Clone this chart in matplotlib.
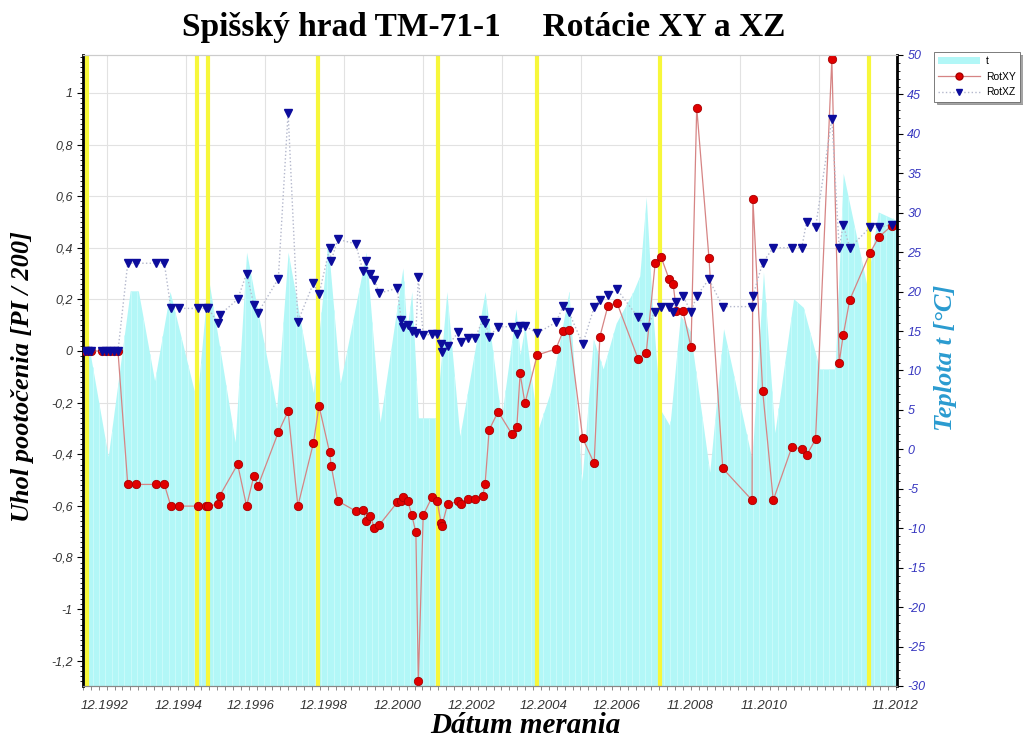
"""Spišský hrad TM-71-1: rotations XY and XZ against air temperature."""

import matplotlib

matplotlib.use("Agg")

import matplotlib.pyplot as plt  # noqa: E402
import numpy as np  # noqa: E402
from matplotlib.lines import Line2D  # noqa: E402
from matplotlib.patches import Patch  # noqa: E402
from matplotlib.ticker import FuncFormatter, MultipleLocator  # noqa: E402
from matplotlib.transforms import blended_transform_factory  # noqa: E402

# ---------------------------------------------------------------------------
# Data (x = position along the date axis, 0 = left edge, 100 = right edge)
# ---------------------------------------------------------------------------
MEAS_POS = [
    0.2, 0.6, 1.0, 2.3, 2.8, 3.3, 3.8, 4.3, 5.5, 6.5,
    9.0, 10.0, 10.8, 11.8, 14.1, 15.1, 15.4, 16.6, 16.8, 19.0,
    20.1, 21.0, 21.5, 24.0, 25.2, 26.4, 28.3, 29.0, 30.3, 30.5,
    31.3, 33.5, 34.4, 34.8, 35.3, 35.8, 36.4, 38.6, 39.1, 39.3,
    39.9, 40.4, 40.9, 41.2, 41.8, 42.9, 43.5, 44.0, 44.1, 44.8,
    46.1, 46.4, 47.3, 48.2, 49.1, 49.4, 49.9, 51.0, 52.7, 53.3,
    53.7, 54.3, 55.8, 58.1, 59.0, 59.7, 61.4, 62.8, 63.5, 64.5,
    65.6, 68.2, 69.2, 70.3, 71.0, 72.0, 72.5, 72.9, 73.7, 74.7,
    75.4, 76.9, 78.6, 82.2, 82.3, 83.5, 84.8, 87.1, 88.3, 88.9,
    90.0, 92.0, 92.9, 93.4, 94.2, 96.7, 97.8, 99.4,
]
ROT_XY = [
    0, 0, 0, 0, 0, 0, 0, 0, -0.517, -0.517,
    -0.517, -0.517, -0.601, -0.601, -0.601, -0.601, -0.601, -0.593, -0.561, -0.439,
    -0.601, -0.483, -0.523, -0.315, -0.233, -0.601, -0.358, -0.213, -0.393, -0.446,
    -0.581, -0.62, -0.616, -0.659, -0.64, -0.685, -0.674, -0.587, -0.583, -0.565,
    -0.58, -0.636, -0.703, -1.279, -0.636, -0.565, -0.58, -0.668, -0.677, -0.593,
    -0.583, -0.593, -0.574, -0.574, -0.561, -0.517, -0.306, -0.235, -0.322, -0.296,
    -0.087, -0.203, -0.016, 0.008, 0.078, 0.081, -0.339, -0.435, 0.055, 0.176,
    0.187, -0.031, -0.006, 0.342, 0.366, 0.279, 0.26, 0.156, 0.156, 0.014,
    0.943, 0.362, -0.455, -0.578, 0.59, -0.154, -0.578, -0.371, -0.38, -0.404,
    -0.342, 1.131, -0.045, 0.062, 0.198, 0.381, 0.443, 0.486,
]
ROT_XZ = [
    0, 0, 0, 0, 0, 0, 0, 0, 0.34, 0.34,
    0.34, 0.34, 0.165, 0.165, 0.165, 0.165, 0.165, 0.107, 0.14, 0.2,
    0.30, 0.178, 0.148, 0.28, 0.924, 0.114, 0.262, 0.22, 0.398, 0.35,
    0.433, 0.415, 0.31, 0.35, 0.297, 0.275, 0.224, 0.243, 0.12, 0.094,
    0.1, 0.079, 0.069, 0.286, 0.062, 0.064, 0.064, 0.027, -0.003, 0.02,
    0.072, 0.036, 0.052, 0.052, 0.12, 0.11, 0.056, 0.094, 0.094, 0.066,
    0.097, 0.097, 0.069, 0.111, 0.174, 0.15, 0.027, 0.17, 0.198, 0.217,
    0.239, 0.13, 0.092, 0.152, 0.172, 0.172, 0.152, 0.191, 0.213, 0.152,
    0.213, 0.278, 0.172, 0.172, 0.213, 0.342, 0.4, 0.4, 0.4, 0.501,
    0.479, 0.899, 0.4, 0.488, 0.4, 0.479, 0.479, 0.49,
]

TEMP_POS = [
    0.0, 3.1, 5.8, 6.8, 8.8, 10.7, 14.0, 15.4, 18.7, 20.1,
    23.8, 25.2, 28.3, 30.1, 31.6, 34.8, 36.5, 39.3, 39.8, 40.4,
    41.2, 43.4, 44.7, 46.3, 49.4, 51.4, 53.2, 53.7, 54.3, 55.9,
    57.4, 59.7, 61.3, 62.7, 63.9, 65.5, 67.6, 68.4, 69.2, 69.9,
    70.9, 72.1, 73.4, 74.6, 77.0, 78.7, 82.2, 83.6, 85.0, 87.3,
    88.5, 90.5, 92.4, 93.4, 96.3, 97.7, 99.4, 100.0,
]
TEMP_C = [
    17.4, -0.9, 20.1, 20.1, 8.7, 20.0, 6.0, 21.8, 0.9, 25.0,
    5.1, 25.0, 7.2, 26.3, 8.3, 25.0, 3.4, 23.0, 15.0, 20.0,
    4.0, 4.0, 20.0, 1.7, 20.0, 3.8, 17.8, 12.0, 15.7, 2.5,
    7.2, 20.0, -4.0, 14.0, 10.2, 16.0, 20.0, 22.0, 32.0, 19.0,
    5.1, 3.0, 17.0, 15.0, -2.9, 15.3, -1.3, 22.5, 2.1, 19.1,
    18.0, 10.2, 10.2, 35.0, 20.8, 30.1, 29.3, 29.0,
]

EVENT_POS = [0.45, 14.0, 15.3, 28.9, 43.6, 55.8, 70.9, 96.6]

DATE_LABELS = [
    "12.1992", "12.1994", "12.1996", "12.1998", "12.2000", "12.2002",
    "12.2004", "12.2006", "11.2008", "11.2010", "11.2012",
]
DATE_LABEL_POS = [2.7, 11.7, 20.6, 29.6, 38.7, 47.7, 56.6, 65.6, 74.6, 83.7, 99.8]

# ---------------------------------------------------------------------------
# Style
# ---------------------------------------------------------------------------
SERIF = "Liberation Serif"
SANS = "Liberation Sans"
CYAN = "#b2f7f7"
STRIPE = "#c9fbfb"
YELLOW = "#f7f73a"
GRID = "#e2e2e2"
RIGHT_TICK_COLOR = "#3636c0"
RIGHT_LABEL_COLOR = "#2a9bd0"

plt.rcParams["font.family"] = SANS
plt.rcParams["axes.unicode_minus"] = False


def comma_label(value, _pos):
    if abs(value) < 1e-9:
        return "0"
    return f"{value:g}".replace(".", ",")


fig = plt.figure(figsize=(10.23, 7.40), dpi=100)
ax = fig.add_axes([0.0811, 0.073, 0.7957, 0.8527])
ax_t = ax.twinx()

ax.set_xlim(0, 100)
ax.set_ylim(-1.298, 1.147)
ax_t.set_ylim(-30, 50)

# temperature area: right-axis units, drawn in the left axes so it sits over the grid
trans_t = blended_transform_factory(ax.transData, ax_t.transData)
ax.fill_between(TEMP_POS, -30, TEMP_C, color=CYAN, lw=0, transform=trans_t, zorder=1)
stripe_x = np.arange(0.4, 100, 0.78)
ax.vlines(stripe_x, -30, np.interp(stripe_x, TEMP_POS, TEMP_C), color=STRIPE,
          lw=0.7, transform=trans_t, zorder=1.1)

# grid
ax.set_axisbelow(True)
ax.yaxis.grid(True, color=GRID, lw=0.8)
for gx in np.arange(2.9, 99, 9.72):
    ax.axvline(gx, color=GRID, lw=0.8, zorder=0.5)

# event markers
for ex in EVENT_POS:
    ax.axvline(ex, color=YELLOW, lw=3, zorder=2)

ax.plot(MEAS_POS, ROT_XY, color="#d68484", lw=0.9, marker="o", ms=6,
        mfc="#e00000", mec="#a80000", mew=0.6, zorder=4)
ax.plot(MEAS_POS, ROT_XZ, color="#b4b8cc", lw=1.0, ls=":", marker="v", ms=6,
        mfc="#0c0c9c", mec="#0c0c9c", zorder=5)

# axes cosmetics
ax.yaxis.set_major_locator(MultipleLocator(0.2))
ax.yaxis.set_minor_locator(MultipleLocator(0.02))
ax.yaxis.set_major_formatter(FuncFormatter(comma_label))
ax.tick_params(axis="y", which="major", length=4, labelsize=9, labelcolor="#333333")
ax.tick_params(axis="y", which="minor", length=2)
for lab in ax.get_yticklabels():
    lab.set_fontstyle("italic")

ax.set_xticks(DATE_LABEL_POS, DATE_LABELS)
ax.set_xticks(np.arange(0.0, 100, 0.97), minor=True)
ax.tick_params(axis="x", which="major", length=0, pad=10, labelsize=9.5, labelcolor="#333333")
ax.tick_params(axis="x", which="minor", length=3, color="#777777")
for lab in ax.get_xticklabels():
    lab.set_fontstyle("italic")

ax_t.yaxis.set_major_locator(MultipleLocator(5))
ax_t.yaxis.set_minor_locator(MultipleLocator(1))
ax_t.tick_params(axis="y", which="major", length=4, labelsize=9, labelcolor=RIGHT_TICK_COLOR)
ax_t.tick_params(axis="y", which="minor", length=2)
for lab in ax_t.get_yticklabels():
    lab.set_fontstyle("italic")

for a in (ax, ax_t):
    a.spines["left"].set_linewidth(2)
    a.spines["right"].set_linewidth(2)
    a.spines["top"].set_color("#cccccc")
    a.spines["bottom"].set_color("#888888")
ax.spines["right"].set_visible(False)
ax_t.spines["left"].set_visible(False)

ax.set_ylabel("Uhol pootočenia [PI / 200]", family=SERIF, fontsize=19,
              fontweight="bold", fontstyle="italic")
ax.yaxis.set_label_coords(-0.06, 0.49)
ax_t.set_ylabel("Teplota t [°C]", family=SERIF, fontsize=19, fontweight="bold",
                fontstyle="italic", color=RIGHT_LABEL_COLOR)
ax_t.yaxis.set_label_coords(1.046, 0.52)
ax.set_xlabel("Dátum merania", family=SERIF, fontsize=21, fontweight="bold",
              fontstyle="italic", va="center")
ax.xaxis.set_label_coords(0.544, -0.062)
fig.text(0.473, 0.963, "Spišský hrad TM-71-1     Rotácie XY a XZ", family=SERIF,
         fontsize=24, fontweight="bold", ha="center", va="center")

handles = [
    Patch(facecolor=CYAN, edgecolor="none"),
    Line2D([], [], color="#d68484", lw=0.9, marker="o", ms=5, mfc="#e00000", mec="#a80000"),
    Line2D([], [], color="#b4b8cc", lw=1.0, ls=":", marker="v", ms=5, mfc="#0c0c9c", mec="#0c0c9c"),
]
leg = fig.legend(handles, ["t", "RotXY", "RotXZ"], loc="upper left",
                 bbox_to_anchor=(0.913, 0.93), fontsize=7.5, frameon=True,
                 fancybox=False, shadow=True, edgecolor="#666666", handlelength=4.0,
                 borderpad=0.4, labelspacing=0.55, handletextpad=0.6, borderaxespad=0.0)
leg.get_frame().set_linewidth(0.6)

fig.savefig("out.png", dpi=100)
